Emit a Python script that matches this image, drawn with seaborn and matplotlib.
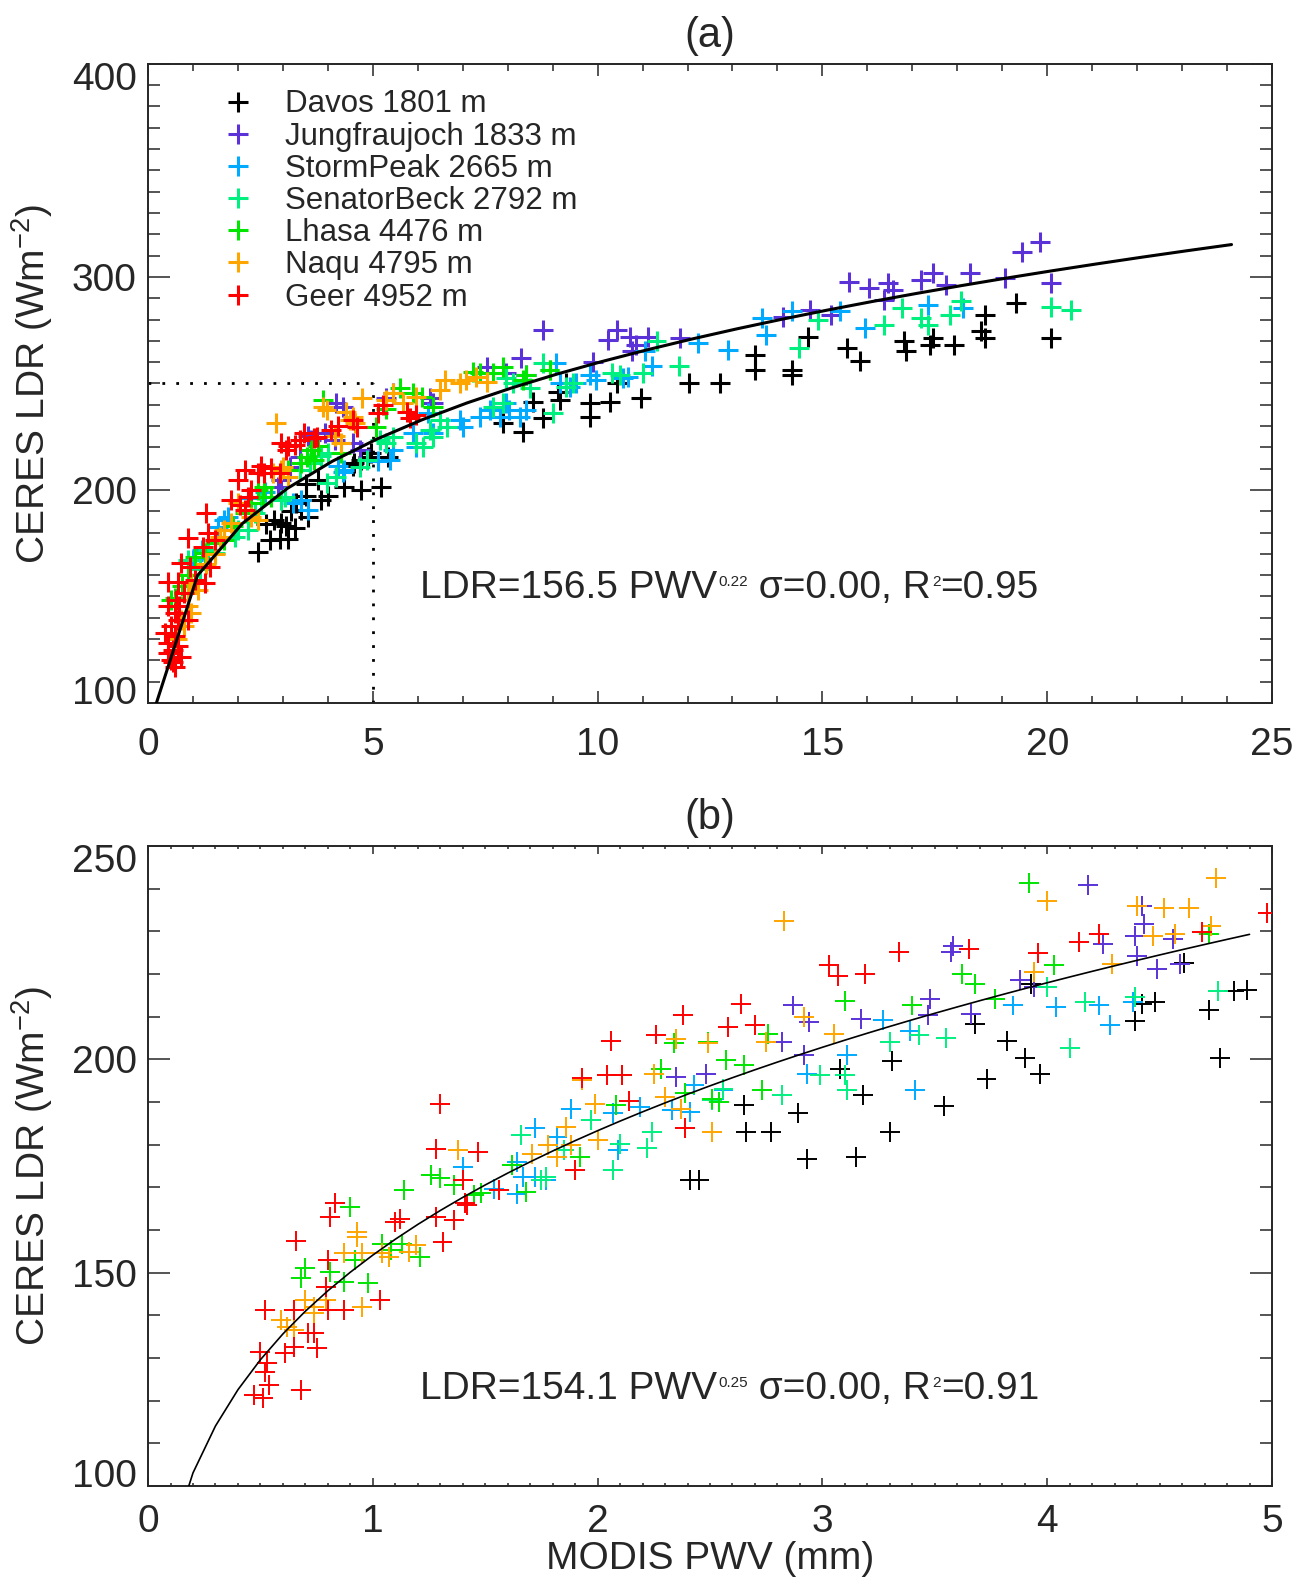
import numpy as np
import pandas as pd
import seaborn as sns
import matplotlib.pyplot as plt
from matplotlib.lines import Line2D
from matplotlib.ticker import MultipleLocator, FixedLocator
from matplotlib.transforms import ScaledTranslation

# station names and colours
sites = ["Davos 1801 m", "Jungfraujoch 1833 m", "StormPeak 2665 m", "SenatorBeck 2792 m",
         "Lhasa 4476 m", "Naqu 4795 m", "Geer 4952 m"]
site_colors = ["#000000", "#5a32d8", "#00aaff", "#00f080", "#00e600", "#ffa500", "#ff0000"]

# ---------------- panel (a): PWV (mm) / LDR (Wm-2) ----------------
davos_a_pwv = [2.44, 2.71, 2.93, 3.11, 2.62, 2.81, 2.96, 3.07, 3.26, 3.19, 3.41, 3.56, 3.30, 3.52, 3.85,
               4.0, 3.78, 3.52, 4.37, 4.59, 4.74, 4.96, 4.89, 4.56, 4.74, 5.18, 5.33, 7.9, 8.34, 8.56,
               8.79, 9.12, 9.16, 9.3, 9.82, 9.82, 10.27, 10.43, 10.97, 12.04, 12.72, 13.5, 13.5, 14.33,
               14.33, 14.67, 15.55, 15.84, 16.81, 16.86, 17.45, 17.4, 17.93, 18.52, 18.62, 18.62, 19.3, 20.08]
davos_a_ldr = [171, 176.5, 177, 177, 184, 186, 184.5, 183, 182, 190, 190.6, 187.5, 193.7, 197, 195.3,
               197, 204.7, 203, 201.6, 212.5, 214, 217.2, 215.6, 211, 200, 201.5, 215.6, 231.3, 227.4, 241.5,
               233.6, 246.2, 242.2, 250.1, 240.7, 234.4, 241.5, 250.1, 243.1, 250.1, 250.1, 263.4, 256.4, 256.4,
               254, 272, 266.6, 260.3, 269.7, 265, 271.2, 268.1, 268.1, 274.4, 271.2, 282.2, 287.7, 271.2]

jungfrau_a_pwv = [2.89, 2.96, 3.16, 3.38, 3.56, 3.63, 3.93, 4.15, 4.19, 4.34, 4.56, 4.71, 5.30, 5.45, 6.27,
                  6.34, 7.53, 7.97, 8.3, 8.41, 8.79, 9.9, 10.23, 10.43, 10.72, 10.86, 11.11, 10.77, 11.84,
                  14.13, 14.72, 15.2, 15.6, 16.03, 16.38, 16.47, 16.57, 17.2, 17.45, 17.74, 18.28, 19.06,
                  19.45, 19.84, 20.08]
jungfrau_a_ldr = [201.6, 204.7, 210.9, 215.6, 225.1, 223.5, 226.6, 223.5, 240.7, 239.1, 221.9, 218.8, 243, 245.4, 243,
                  240.7, 257.9, 254.8, 261.8, 254, 275.1, 260.2, 270.5, 275.2, 272, 268, 272, 265, 271.2,
                  281.4, 284.5, 282.2, 297.8, 294.7, 289.2, 297.1, 294, 298.6, 301.8, 296.3, 301.8, 299.4,
                  311.9, 316.2, 297.1]

storm_a_pwv = [1.0, 1.2, 1.56, 1.70, 1.78, 2.3, 2.6, 3.23, 3.41, 3.56, 4.22, 4.34, 4.37, 5.11, 5.38, 5.45,
               5.9, 5.97, 6.22, 6.34, 6.93, 7.01, 7.38, 7.60, 7.82, 7.97, 8.04, 8.27, 8.41, 9.08, 9.16,
               9.38, 9.53, 9.82, 9.97, 10.56, 10.67, 11.06, 11.21, 12.23, 12.91, 13.65, 13.74, 14.33,
               15.4, 15.94, 17.35, 18.13]
storm_a_ldr = [167, 172, 182.8, 186, 187.5, 196, 199, 193.7, 195.3, 190.6, 211, 208.6, 209.4, 213.5, 214.1, 218.8,
               226.6, 220.3, 236, 226.6, 232.8, 229.7, 234.4, 237.5, 234.4, 240.7, 237.5, 234.4, 237.5, 259.5, 250.1,
               248.5, 250.1, 254, 251.6, 252.4, 253.2, 265, 258, 268.9, 265.8, 280.6, 272.8, 283.8,
               283.8, 276, 286.9, 285.3]

senator_a_pwv = [0.89, 1.15, 1.33, 1.48, 1.7, 1.93, 2.0, 2.22, 2.37, 2.52, 2.96, 3.04, 3.38, 3.6, 3.85, 4.0,
                 3.97, 4.19, 4.71, 4.86, 5.16, 5.30, 5.45, 5.97, 6.12, 6.27, 6.34, 6.49, 6.64, 7.67, 7.9,
                 7.97, 8.12, 8.49, 8.78, 8.93, 9.01, 9.3, 9.45, 10.33, 10.49, 11.01, 11.31, 11.8, 14.47,
                 14.91, 16.37, 16.77, 17.2, 17.35, 17.84, 18.08, 20.08, 20.52]
senator_a_ldr = [167.2, 163, 171.9, 170.3, 177, 178.1, 181.3, 181.3, 189.1, 193.8, 195.3, 196.9, 209.4, 212.5, 215.7, 217.3,
                 203.1, 206.2, 210.9, 214.1, 223.4, 221.9, 225, 221.9, 220.3, 228.1, 225, 232.8, 229.7, 239.1, 240.7,
                 252.4, 250.1, 247.7, 259.5, 256.3, 236, 248.5, 250.1, 254.8, 254, 254.8, 269.7, 258, 266.6,
                 279.9, 277.5, 285.3, 280.6, 277.5, 282.2, 288.5, 286.1, 284.5]

lhasa_a_pwv = [0.52, 0.59, 0.75, 0.9, 1.04, 1.26, 1.5, 1.70, 1.9, 2.15, 2.3, 2.44, 2.56, 2.59, 2.74, 3.11,
               3.41, 3.53, 3.63, 3.70, 3.78, 3.90, 4.30, 5.08, 5.3, 5.6, 5.9, 6.1, 6.34, 7.23, 7.38, 7.67,
               7.9, 8.34, 8.41, 8.93]
lhasa_a_ldr = [148.4, 149.2, 155, 160, 168.7, 170.3, 175, 176.6, 183, 189.1, 194, 200, 196.8, 201.6, 196.9, 209.4,
               212.6, 215.6, 218.8, 214.1, 220.4, 242.2, 217.3, 229.7, 238, 247.7, 245.4, 243.8, 239.1, 255.5, 254.8, 254.8,
               257.9, 251.6, 254, 256.3]

naqu_a_pwv = [0.65, 0.74, 0.81, 0.89, 0.89, 0.96, 0.96, 1.11, 1.3, 1.5, 1.6, 1.70, 1.85, 2.0, 2.30, 2.44,
              2.79, 2.85, 2.96, 3.01, 3.11, 3.90, 3.97, 4.15, 4.30, 4.41, 4.49, 4.56, 4.60, 4.75, 5.30,
              5.45, 5.67, 5.97, 6.5, 6.6, 6.93, 7.08, 7.30, 7.53]
naqu_a_ldr = [130, 139, 135.9, 151.5, 145.3, 156.2, 142.1, 153.1, 165, 170, 178, 181.3, 184.4, 193.8, 187.5, 186,
              207.8, 231.3, 209.4, 210.9, 206.3, 239.1, 237.5, 225.1, 222, 236.8, 232.8, 234.4, 231.3, 243, 242.2,
              245.4, 240.7, 243.8, 246.9, 251.6, 250.1, 251.6, 253.2, 250.8]

geer_a_pwv = [0.37, 0.44, 0.44, 0.44, 0.44, 0.52, 0.52, 0.55, 0.56, 0.59, 0.59, 0.6, 0.63, 0.67, 0.67, 0.67,
              0.70, 0.74, 0.74, 0.81, 0.89, 0.89, 0.93, 1.04, 1.22, 1.26, 1.30, 1.33, 1.37, 1.48, 1.85,
              2.0, 2.04, 2.15, 2.15, 2.22, 2.30, 2.44, 2.52, 2.59, 2.74, 2.93, 2.96, 3.08, 3.11, 3.26,
              3.38, 3.48, 3.70, 3.75, 4.07, 4.22, 4.56, 4.64, 5.12, 5.23, 5.75, 5.82, 5.97]
geer_a_ldr = [132.7, 145.3, 128.1, 123.4, 157, 135.9, 120.2, 119, 124.9, 142.1, 131.2, 117, 148.4, 139, 126.5, 157,
              145.3, 121.8, 165.6, 151.5, 139, 177.3, 164, 157.8, 173.4, 156.2, 189.1, 179.7, 164, 176.6, 195.3,
              204.7, 193, 209.4, 190.6, 196.9, 200, 207.9, 211, 207.9, 210.2, 207.8, 222, 218.8, 220.4, 221.2,
              223.4, 226.6, 224.3, 225, 228.2, 229.8, 232.8, 229.7, 236, 239.9, 236.8, 233.6, 235.2]

# ---------------- panel (b) ----------------
davos_b_pwv = [2.41, 2.45, 2.66, 2.77, 2.65, 2.89, 2.93, 3.08, 3.15, 3.18, 3.30, 3.31, 3.68, 3.54, 3.73,
               3.82, 3.90, 3.97, 3.93, 4.39, 4.42, 4.48, 4.61, 4.72, 4.77, 4.83, 4.89]
davos_b_ldr = [171.7, 171.7, 183, 183, 189.2, 187.3, 176.7, 197.8, 177.1, 191.6, 182.9, 199.7, 208.3, 189, 195.4,
               204.3, 200.3, 196.6, 217.7, 208.9, 213, 213.4, 222.5, 211.6, 200.3, 216.1, 216.3]

jungfrau_b_pwv = [2.35, 2.48, 2.82, 2.87, 2.92, 2.94, 3.17, 3.47, 3.48, 3.57, 3.58, 3.66, 3.88, 3.94, 4.18,
                  4.25, 4.39, 4.40, 4.42, 4.43, 4.49, 4.56, 4.59]
jungfrau_b_ldr = [195.9, 196.6, 204.1, 212.6, 200.9, 208.7, 209.5, 210.3, 214.2, 225.1, 226.6, 210.7, 218.6, 216.9, 240.9,
                  227, 229, 224.1, 236, 231.7, 221.2, 228.2, 222.4]

storm_b_pwv = [1.40, 1.54, 1.64, 1.64, 1.67, 1.72, 1.77, 1.72, 1.82, 1.88, 2.07, 2.09, 2.19, 2.33, 2.41,
               2.43, 2.56, 2.93, 3.11, 3.27, 3.39, 3.41, 3.85, 4.04, 4.23, 4.28, 4.38]
storm_b_ldr = [174.8, 169.7, 168.5, 176, 172.4, 172.4, 171.7, 183.8, 181.8, 188.4, 187.3, 178.7, 188.8, 188, 187.7,
               193.9, 192.7, 196.6, 200.9, 209.1, 206.7, 192.7, 212.6, 212.2, 212.6, 208.1, 213.4]

senator_b_pwv = [1.66, 1.75, 1.77, 1.85, 1.97, 2.07, 2.10, 2.22, 2.24, 2.51, 2.56, 2.82, 2.99, 3.10, 3.11,
                 3.30, 3.43, 3.55, 4.00, 4.10, 4.17, 4.39, 4.76]
senator_b_ldr = [182.2, 171.7, 172.4, 178.7, 185.7, 174, 180.2, 179.1, 183, 190.4, 193.1, 191.6, 196.3, 196.3, 192.7,
                 204, 205.6, 205, 216.9, 202.6, 213.4, 214.5, 216.1]

lhasa_b_pwv = [0.68, 0.70, 0.81, 0.87, 0.90, 0.92, 0.98, 1.04, 1.08, 1.13, 1.14, 1.21, 1.26, 1.30, 1.36,
               1.45, 1.48, 1.62, 1.68, 1.92, 2.08, 2.11, 2.28, 2.34, 2.39, 2.49, 2.51, 2.54, 2.57, 2.65,
               2.73, 2.76, 3.10, 3.40, 3.62, 3.68, 3.77, 3.92, 4.03, 4.72]
lhasa_b_ldr = [148.7, 151, 150.2, 147.9, 165.4, 152.9, 147.5, 156.8, 155.3, 156.8, 169.3, 153.7, 172.8, 172.1, 170.5,
               168.2, 168.6, 175.2, 169, 177.1, 189.2, 196.3, 197.8, 203.7, 192, 204.1, 190.8, 190, 199.8, 198.6,
               192.7, 206, 213.7, 212.6, 220, 217.7, 214.2, 241.3, 222.1, 229.4]

naqu_b_pwv = [0.59, 0.62, 0.65, 0.70, 0.74, 0.74, 0.79, 0.87, 0.93, 0.93, 0.95, 0.95, 1.04, 1.07, 1.16,
              1.19, 1.38, 1.71, 1.78, 1.82, 1.86, 1.88, 1.93, 1.99, 2.00, 2.25, 2.30, 2.35, 2.37, 2.49,
              2.51, 2.75, 2.83, 2.92, 3.05, 3.94, 4.00, 4.29, 4.40, 4.47, 4.52, 4.57, 4.63, 4.73, 4.75]
naqu_b_ldr = [138.9, 137.3, 136.6, 143.6, 142, 140.5, 143.6, 154.5, 159.6, 158.4, 154.5, 142, 154.5, 153.7, 154.9,
              156.5, 178.7, 177.9, 179.9, 177.1, 184.2, 179.9, 195.1, 189.6, 181, 196.6, 191.2, 204.8, 188.4, 203.7,
              183, 204.1, 232.5, 209.9, 206, 220.4, 237, 222.4, 236, 228.8, 235.5, 229.4, 235.5, 231.3, 242.4]

geer_b_pwv = [0.47, 0.50, 0.51, 0.52, 0.52, 0.53, 0.54, 0.61, 0.65, 0.65, 0.66, 0.68, 0.71, 0.74, 0.75,
              0.79, 0.80, 0.80, 0.81, 0.83, 0.87, 1.03, 1.10, 1.12, 1.28, 1.28, 1.30, 1.31, 1.36, 1.40,
              1.41, 1.42, 1.47, 1.56, 1.90, 1.93, 2.04, 2.06, 2.11, 2.14, 2.26, 2.38, 2.39, 2.58, 2.64,
              2.70, 3.03, 3.07, 3.19, 3.34, 3.65, 3.96, 4.14, 4.23, 4.69, 4.98]
geer_b_ldr = [121.3, 131.5, 120.5, 141.2, 126.8, 128.7, 123.7, 131.1, 141.2, 132.6, 157.3, 122.5, 135.8, 135.8, 132.3,
              146.7, 141.2, 152.9, 163.1, 166.4, 141.2, 143.6, 161.9, 162.5, 178.9, 163.1, 189.6, 157.1, 162.3, 171.8,
              166.2, 165.8, 178.3, 169.3, 174, 195.5, 196.3, 204.2, 196.3, 190.2, 205.8, 210.3, 183.8, 207.6, 212.9,
              208, 222, 219.5, 220, 225.2, 225.9, 224.9, 227.4, 229.4, 229.8, 234.2]

# power-law fits LDR = a * PWV^b, drawn at the sampled PWV values of the original
fit_a = [156.5, 154.1]
fit_b = [0.22, 0.25]
fit_r2 = [0.95, 0.91]
curve_a_pwv = np.arange(0.1, 24.2, 1.0)
curve_b_pwv = np.arange(0.1, 4.95, 0.1)

pwv_ref, ldr_ref = 5, 250
yticks_a = [100, 200, 300, 400]
yticks_b = [100, 150, 200, 250]


def make_frame(pairs):
    rows = []
    for name, (xs, ys) in zip(sites, pairs):
        rows.append(pd.DataFrame({"pwv": xs, "ldr": ys, "site": name}))
    return pd.concat(rows, ignore_index=True)


def fit_label(ax, x, y, i):
    """fit formula with small IDL-like superscripts, pieces chained one after another"""
    big, small = 28, 11
    t1 = ax.text(x, y, "LDR=%.1f PWV" % fit_a[i], fontsize=big, va="baseline")
    s1 = ax.annotate("%.2f" % fit_b[i], xy=(1, 1), xycoords=t1, xytext=(1, -4),
                     textcoords="offset points", va="top", fontsize=small)
    t2 = ax.annotate(" σ=0.00, R", xy=(1, 0), xycoords=(s1, t1), va="bottom", fontsize=big)
    s2 = ax.annotate("2", xy=(1, 1), xycoords=t2, xytext=(1, -4),
                     textcoords="offset points", va="top", fontsize=small)
    ax.annotate("=%.2f" % fit_r2[i], xy=(1, 0), xycoords=(s2, t2), va="bottom", fontsize=big)


df_a = make_frame([(davos_a_pwv, davos_a_ldr), (jungfrau_a_pwv, jungfrau_a_ldr), (storm_a_pwv, storm_a_ldr),
                   (senator_a_pwv, senator_a_ldr), (lhasa_a_pwv, lhasa_a_ldr), (naqu_a_pwv, naqu_a_ldr),
                   (geer_a_pwv, geer_a_ldr)])
df_b = make_frame([(davos_b_pwv, davos_b_ldr), (jungfrau_b_pwv, jungfrau_b_ldr), (storm_b_pwv, storm_b_ldr),
                   (senator_b_pwv, senator_b_ldr), (lhasa_b_pwv, lhasa_b_ldr), (naqu_b_pwv, naqu_b_ldr),
                   (geer_b_pwv, geer_b_ldr)])

sns.set_style("ticks")
plt.rcParams['font.family'] = ['Liberation Sans', 'DejaVu Sans']
plt.rcParams['mathtext.fontset'] = 'custom'
plt.rcParams['mathtext.rm'] = 'Liberation Sans'
plt.rcParams['mathtext.default'] = 'regular'

fig = plt.figure(figsize=(13.03, 15.85), dpi=100)
ax_a = fig.add_axes([0.1136, 0.5565, 0.8626, 0.4032])
ax_b = fig.add_axes([0.1136, 0.0625, 0.8626, 0.4038])
palette = dict(zip(sites, site_colors))

# panel (a)
sns.scatterplot(data=df_a, x="pwv", y="ldr", hue="site", hue_order=sites, palette=palette,
                marker="+", s=207, linewidth=2.2, legend=False, ax=ax_a, zorder=3)
ax_a.plot(curve_a_pwv, fit_a[0] * curve_a_pwv ** fit_b[0], color="black", lw=2.2, zorder=4)
ax_a.plot([0, pwv_ref], [ldr_ref, ldr_ref], color="black", lw=2, ls=(0, (1, 4)))
ax_a.plot([pwv_ref, pwv_ref], [100, ldr_ref], color="black", lw=2, ls=(0, (1, 4)))
ax_a.set_xlim(0, 25)
ax_a.set_ylim(100, 400)
ax_a.xaxis.set_major_locator(MultipleLocator(5))
ax_a.xaxis.set_minor_locator(MultipleLocator(1))
ax_a.yaxis.set_major_locator(FixedLocator(yticks_a))
ax_a.yaxis.set_minor_locator(MultipleLocator(10))
ax_a.set_xlabel("")
ax_a.set_title("(a)", fontsize=30, pad=12)
fit_label(ax_a, 6.04, 149.3, 0)

handles = [Line2D([], [], ls="None", marker="+", markersize=14.4, markeredgewidth=2.2, color=c)
           for c in site_colors]
ax_a.legend(handles, sites, loc="upper left", bbox_to_anchor=(0.066, 0.960), frameon=False,
            fontsize=22.5, handlelength=1.0, handletextpad=1.0, labelspacing=0.07,
            borderpad=0, borderaxespad=0)

# panel (b)
sns.scatterplot(data=df_b, x="pwv", y="ldr", hue="site", hue_order=sites, palette=palette,
                marker="+", s=207, linewidth=1.4, legend=False, ax=ax_b, zorder=3)
ax_b.plot(curve_b_pwv, fit_a[1] * curve_b_pwv ** fit_b[1], color="black", lw=1.2, zorder=4)
ax_b.set_xlim(0, 5)
ax_b.set_ylim(100, 250)
ax_b.xaxis.set_major_locator(MultipleLocator(1))
ax_b.xaxis.set_minor_locator(MultipleLocator(0.1))
ax_b.yaxis.set_major_locator(FixedLocator(yticks_b))
ax_b.yaxis.set_minor_locator(MultipleLocator(10))
ax_b.set_xlabel("MODIS PWV (mm)", fontsize=28, labelpad=1)
ax_b.set_title("(b)", fontsize=30, pad=12)
fit_label(ax_b, 1.21, 120.4, 1)

for ax, xmaj, xmin, xpad in [(ax_a, 8.6, 5.0, 17), (ax_b, 6.0, 2.2, 13)]:
    ax.set_ylabel("CERES LDR (Wm$^{-2}$)", fontsize=28, labelpad=12)
    for side in ax.spines.values():
        side.set_linewidth(1.4)
    ax.tick_params(axis="both", which="both", direction="in", top=True, right=True,
                   labelsize=28, width=1.1)
    ax.tick_params(axis="x", which="major", length=xmaj, pad=xpad)
    ax.tick_params(axis="x", which="minor", length=xmin)
    ax.tick_params(axis="y", which="major", length=16, pad=8)
    ax.tick_params(axis="y", which="minor", length=8.6)

fig.canvas.draw()
# IDL-style: end labels of the y axis pulled inside the axis range
for ax in (ax_a, ax_b):
    labels = ax.get_yticklabels()
    labels[-1].set_transform(labels[-1].get_transform()
                             + ScaledTranslation(0, -9 / 72, fig.dpi_scale_trans))
    labels[0].set_transform(labels[0].get_transform()
                            + ScaledTranslation(0, 9 / 72, fig.dpi_scale_trans))

fig.savefig("out.png", dpi=100)
